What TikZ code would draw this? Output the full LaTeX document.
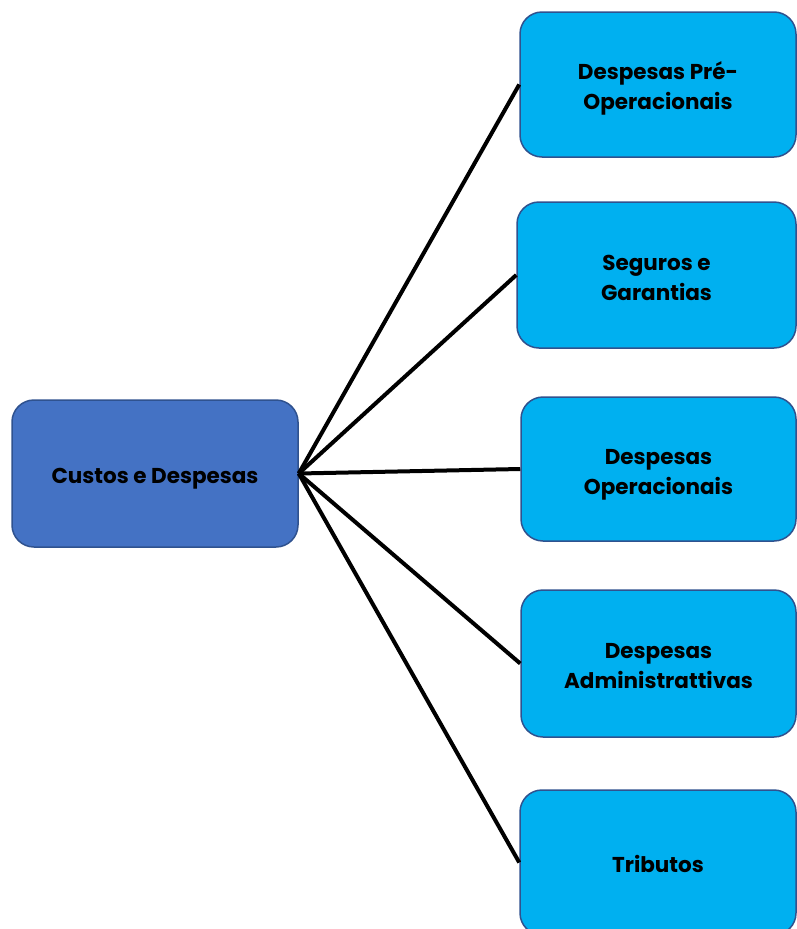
\documentclass[tikz,border=0pt]{standalone}
\usepackage{fontspec}
\setmainfont{Poppins}
% set a centred block of lines a little lower without changing its extent
\newcommand{\boxtext}[1]{\raisebox{-4pt}[\height][\depth]{\begin{tabular}{@{}c@{}}#1\end{tabular}}}
\begin{document}
\begin{tikzpicture}[x=1pt,y=-1pt,
  box/.style={draw=frame,line width=1.5pt,rounded corners=22pt,inner sep=0pt,
    font=\fontsize{21.5}{30}\selectfont\bfseries,text=black},
  root/.style={box,fill=rootblue},
  leaf/.style={box,fill=leafcyan},
  link/.style={line width=4pt,black}]
\definecolor{rootblue}{HTML}{4472C4}
\definecolor{leafcyan}{HTML}{00B0F0}
\definecolor{frame}{HTML}{2F528F}
\useasboundingbox (0,0) rectangle (797,929);
\begin{scope}
\clip (0,0) rectangle (797,929);
\node[root,minimum width=286pt,minimum height=147pt] (root) at (155,473.5) {\boxtext{Custos e Despesas}};
\node[leaf,minimum width=276pt,minimum height=145pt] (a) at (658,84.5) {\boxtext{Despesas Pré-\\Operacionais}};
\node[leaf,minimum width=279pt,minimum height=146pt] (b) at (656.5,275) {\boxtext{Seguros e\\Garantias}};
\node[leaf,minimum width=275pt,minimum height=144pt] (c) at (658.5,469) {\boxtext{Despesas\\Operacionais}};
\node[leaf,minimum width=275pt,minimum height=147pt] (d) at (658.5,663.5) {\boxtext{Despesas\\Administrattivas}};
\node[leaf,minimum width=276pt,minimum height=145pt] (e) at (658,862.5) {\boxtext{Tributos}};
\foreach \n in {a,b,c,d,e}
  \draw[link] (root.east) -- (\n.west);
\end{scope}
\end{tikzpicture}
\end{document}
